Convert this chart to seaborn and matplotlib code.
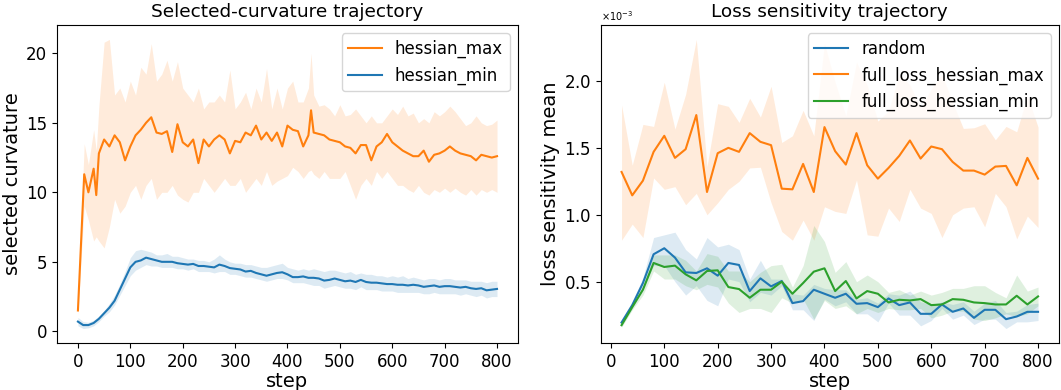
"""Curvature and loss-sensitivity trajectories, two panels side by side."""

import matplotlib

matplotlib.use("Agg")
import matplotlib.pyplot as plt
import seaborn as sns

BLUE = "#1f77b4"
ORANGE = "#ff7f0e"
GREEN = "#2ca02c"

# --- left panel: selected curvature ---------------------------------------
max_steps = [0, 12, 20, 30, 35, 40] + list(range(50, 441, 10)) + [445] + list(range(450, 801, 10))
max_mean = [
    1.5, 11.3, 10.0, 11.7, 9.8, 12.8,
    13.8, 13.3, 14.1, 13.6, 12.3, 13.3, 14.1, 14.5, 15.0, 15.4,
    14.3, 14.2, 14.4, 12.9, 14.9, 13.6, 13.3, 13.8, 12.1, 13.8,
    13.3, 13.8, 14.1, 13.8, 12.8, 13.7, 13.6, 14.3, 14.1, 14.8,
    13.8, 14.3, 13.7, 14.3, 13.3, 14.8, 14.5, 14.4, 13.3, 14.1,
    15.9,
    14.3, 14.2, 14.1, 13.8, 13.7, 13.6, 13.3, 13.2, 12.8, 13.4,
    13.4, 12.3, 13.3, 13.6, 14.2, 13.6, 13.3, 13.0, 12.8, 12.6,
    12.6, 13.0, 12.2, 12.7, 12.8, 13.0, 13.3, 13.0, 12.8, 12.7,
    12.6, 12.3, 12.7, 12.6, 12.5, 12.6,
]
max_upper = [
    2.0, 13.5, 12.0, 14.5, 13.0, 16.2,
    20.8, 21.0, 17.0, 17.5, 16.5, 18.0, 17.0, 19.0, 18.5, 20.7,
    18.0, 18.5, 19.5, 18.0, 19.4, 17.5, 17.0, 16.5, 17.5, 16.0,
    16.5, 16.5, 17.0, 16.5, 18.8, 16.0, 16.5, 17.2, 16.0, 17.5,
    16.5, 18.9, 16.0, 17.5, 16.0, 17.5, 18.0, 16.5, 16.5, 17.5,
    20.0,
    17.0, 16.2, 16.3, 16.0, 15.5, 16.3, 15.5, 15.6, 16.0, 15.5,
    15.0, 15.5, 15.0, 15.0, 15.5, 16.0, 15.6, 16.2, 15.5, 15.7,
    15.0, 15.3, 15.0, 15.8, 15.5, 15.8, 16.2, 15.8, 15.3, 14.8,
    15.0, 15.5, 15.0, 14.8, 14.9, 15.2,
]
max_lower = [
    1.2, 9.0, 8.0, 6.5, 6.8, 6.5,
    6.0, 7.5, 9.5, 8.5, 9.0, 10.0, 10.5, 9.5, 10.5, 11.0,
    9.5, 10.0, 10.0, 10.5, 9.8, 9.5, 9.3, 10.0, 10.0, 11.0,
    10.5, 10.0, 10.5, 11.0, 10.5, 10.5, 11.0, 10.0, 10.5, 11.0,
    10.5, 11.5, 10.5, 10.8, 11.0, 11.2, 11.8, 11.5, 11.0, 11.5,
    11.6,
    11.3, 11.0, 11.5, 11.0, 11.0, 11.0, 11.5, 10.5, 9.5, 10.5,
    11.0, 10.5, 11.5, 11.0, 11.5, 11.0, 10.5, 10.5, 10.2, 10.0,
    10.5, 10.0, 9.8, 10.2, 10.0, 10.3, 10.0, 10.3, 10.0, 9.8,
    10.2, 9.8, 10.2, 10.0, 10.2, 10.0,
]

min_steps = list(range(0, 801, 10))
min_mean = [
    0.7, 0.45, 0.45, 0.6, 0.9, 1.3, 1.7, 2.2, 3.0, 3.8,
    4.6, 5.0, 5.1, 5.3, 5.2, 5.1, 5.0, 5.0, 5.0, 4.9,
    4.85, 4.8, 4.85, 4.7, 4.7, 4.65, 4.6, 4.8, 4.7, 4.55,
    4.5, 4.45, 4.3, 4.35, 4.2, 4.1, 4.0, 4.1, 4.2, 4.25,
    4.1, 3.9, 3.9, 3.95, 3.85, 3.85, 3.8, 3.65, 3.7, 3.8,
    3.7, 3.6, 3.65, 3.55, 3.7, 3.55, 3.5, 3.5, 3.45, 3.4,
    3.4, 3.35, 3.35, 3.3, 3.35, 3.3, 3.2, 3.25, 3.3, 3.2,
    3.25, 3.25, 3.2, 3.15, 3.2, 3.1, 3.05, 3.1, 2.95, 3.0,
    3.05,
]
min_upper = [
    1.0, 0.7, 0.65, 0.8, 1.1, 1.5, 2.0, 2.6, 3.4, 4.3,
    5.3, 5.8, 5.9, 5.8, 5.7, 5.5, 5.5, 5.6, 5.4, 5.4,
    5.3, 5.2, 5.2, 5.1, 5.1, 5.0, 5.2, 5.5, 5.2, 5.0,
    4.9, 4.9, 4.8, 4.8, 4.7, 4.6, 4.6, 4.7, 4.8, 4.9,
    4.6, 4.5, 4.4, 4.5, 4.4, 4.5, 4.4, 4.3, 4.4, 4.4,
    4.3, 4.2, 4.3, 4.1, 4.2, 4.1, 4.1, 4.0, 4.0, 3.9,
    4.0, 3.9, 4.0, 3.8, 3.9, 3.8, 3.7, 3.8, 3.8, 3.7,
    3.8, 3.8, 3.7, 3.7, 3.7, 3.6, 3.6, 3.6, 3.5, 3.6,
    3.6,
]
min_lower = [
    0.4, 0.2, 0.25, 0.4, 0.7, 1.1, 1.4, 1.9, 2.6, 3.3,
    4.0, 4.4, 4.6, 4.8, 4.7, 4.7, 4.6, 4.6, 4.6, 4.5,
    4.5, 4.4, 4.5, 4.3, 4.3, 4.3, 4.2, 4.3, 4.3, 4.1,
    4.1, 4.0, 3.9, 3.9, 3.8, 3.7, 3.6, 3.7, 3.8, 3.8,
    3.7, 3.5, 3.5, 3.5, 3.4, 3.3, 3.3, 3.1, 3.2, 3.3,
    3.2, 3.1, 3.1, 3.0, 3.2, 3.0, 3.0, 3.0, 2.9, 2.9,
    2.9, 2.8, 2.8, 2.8, 2.8, 2.8, 2.7, 2.7, 2.8, 2.7,
    2.7, 2.7, 2.7, 2.6, 2.7, 2.6, 2.5, 2.6, 2.4, 2.5,
    2.5,
]

# --- right panel: loss sensitivity (values in units of 1e-3) ---------------
sens_steps = list(range(20, 801, 20))
random_mean = [
    0.195, 0.325, 0.49, 0.705, 0.75, 0.68, 0.57, 0.565, 0.60, 0.545,
    0.64, 0.625, 0.43, 0.525, 0.465, 0.505, 0.34, 0.355, 0.44, 0.41,
    0.38, 0.41, 0.335, 0.34, 0.31, 0.375, 0.325, 0.345, 0.26, 0.26,
    0.33, 0.275, 0.30, 0.23, 0.29, 0.29, 0.22, 0.24, 0.275, 0.275,
]
random_upper = [
    0.21, 0.35, 0.53, 0.83, 0.85, 0.87, 0.74, 0.67, 0.83, 0.76,
    0.78, 0.74, 0.52, 0.66, 0.52, 0.52, 0.41, 0.40, 0.48, 0.45,
    0.44, 0.44, 0.37, 0.38, 0.34, 0.41, 0.40, 0.43, 0.35, 0.33,
    0.35, 0.33, 0.35, 0.28, 0.34, 0.36, 0.27, 0.28, 0.33, 0.34,
]
random_lower = [
    0.18, 0.30, 0.45, 0.62, 0.62, 0.50, 0.40, 0.47, 0.36, 0.32,
    0.52, 0.50, 0.35, 0.42, 0.40, 0.47, 0.29, 0.29, 0.21, 0.37,
    0.32, 0.35, 0.26, 0.26, 0.20, 0.34, 0.25, 0.25, 0.17, 0.21,
    0.30, 0.22, 0.25, 0.18, 0.22, 0.22, 0.15, 0.20, 0.20, 0.21,
]
hmax_mean = [
    1.32, 1.145, 1.255, 1.47, 1.59, 1.425, 1.49, 1.745, 1.17, 1.46,
    1.50, 1.47, 1.61, 1.545, 1.52, 1.195, 1.19, 1.38, 1.17, 1.655,
    1.475, 1.375, 1.61, 1.37, 1.27, 1.35, 1.44, 1.555, 1.42, 1.51,
    1.49, 1.395, 1.33, 1.33, 1.30, 1.36, 1.365, 1.22, 1.425, 1.27,
]
hmax_upper = [
    1.82, 1.37, 1.675, 1.66, 1.99, 1.64, 1.90, 2.31, 1.36, 1.83,
    1.81, 1.69, 1.87, 1.73, 1.96, 1.54, 1.59, 1.78, 1.59, 2.28,
    1.99, 1.74, 2.14, 1.97, 1.70, 1.775, 2.05, 1.97, 1.80, 1.94,
    2.05, 1.84, 1.645, 1.65, 1.68, 1.56, 1.66, 1.62, 1.89, 1.655,
]
hmax_lower = [
    0.81, 0.93, 0.83, 1.275, 1.19, 1.21, 1.075, 1.16, 1.00, 1.09,
    1.19, 1.25, 1.35, 1.355, 1.09, 0.875, 0.81, 0.96, 0.81, 1.06,
    1.025, 1.01, 1.26, 0.85, 0.84, 1.05, 0.95, 1.19, 1.05, 1.01,
    0.83, 1.00, 1.05, 1.06, 0.91, 1.16, 1.06, 0.82, 0.99, 0.905,
]
hmin_mean = [
    0.175, 0.31, 0.44, 0.64, 0.61, 0.62, 0.555, 0.51, 0.58, 0.585,
    0.46, 0.445, 0.38, 0.44, 0.44, 0.50, 0.41, 0.49, 0.575, 0.60,
    0.43, 0.505, 0.375, 0.43, 0.41, 0.345, 0.365, 0.36, 0.37, 0.325,
    0.33, 0.37, 0.365, 0.345, 0.34, 0.33, 0.33, 0.395, 0.33, 0.39,
]
hmin_upper = [
    0.19, 0.33, 0.47, 0.70, 0.70, 0.70, 0.66, 0.58, 0.71, 0.69,
    0.58, 0.58, 0.50, 0.57, 0.62, 0.63, 0.46, 0.62, 0.92, 0.80,
    0.57, 0.65, 0.50, 0.55, 0.50, 0.42, 0.44, 0.40, 0.43, 0.40,
    0.42, 0.45, 0.45, 0.47, 0.47, 0.42, 0.38, 0.55, 0.43, 0.46,
]
hmin_lower = [
    0.16, 0.29, 0.40, 0.58, 0.52, 0.52, 0.47, 0.44, 0.48, 0.46,
    0.34, 0.27, 0.30, 0.30, 0.27, 0.38, 0.34, 0.37, 0.22, 0.36,
    0.30, 0.32, 0.26, 0.30, 0.27, 0.30, 0.29, 0.29, 0.30, 0.23,
    0.25, 0.28, 0.28, 0.22, 0.21, 0.23, 0.26, 0.24, 0.26, 0.32,
]


def _band(ax, steps, mean, lower, upper, color, label, scale=1.0):
    sns.lineplot(
        x=steps,
        y=[v * scale for v in mean],
        color=color,
        linewidth=1.5,
        label=label,
        ax=ax,
    )
    ax.fill_between(
        steps,
        [v * scale for v in lower],
        [v * scale for v in upper],
        color=color,
        alpha=0.15,
        linewidth=0,
    )


fig = plt.figure(figsize=(10.61, 3.9), dpi=100)
ax_left = fig.add_axes([0.0537, 0.1205, 0.4345, 0.8155])
ax_right = fig.add_axes([0.5662, 0.1205, 0.4318, 0.8155])

_band(ax_left, max_steps, max_mean, max_lower, max_upper, ORANGE, "hessian_max")
_band(ax_left, min_steps, min_mean, min_lower, min_upper, BLUE, "hessian_min")
ax_left.set_title("Selected-curvature trajectory", fontsize=13.3)
ax_left.set_xlabel("step", fontsize=14, labelpad=1)
ax_left.set_ylabel("selected curvature", fontsize=14, labelpad=3)
ax_left.set_xticks(range(0, 801, 100))
ax_left.set_yticks([0, 5, 10, 15, 20])
ax_left.tick_params(labelsize=12)
ax_left.legend(loc="upper right", fontsize=12)

_band(ax_right, sens_steps, random_mean, random_lower, random_upper, BLUE, "random", 1e-3)
_band(ax_right, sens_steps, hmax_mean, hmax_lower, hmax_upper, ORANGE, "full_loss_hessian_max", 1e-3)
_band(ax_right, sens_steps, hmin_mean, hmin_lower, hmin_upper, GREEN, "full_loss_hessian_min", 1e-3)
ax_right.set_title("Loss sensitivity trajectory", fontsize=13.3)
ax_right.set_xlabel("step", fontsize=14, labelpad=1)
ax_right.set_ylabel("loss sensitivity mean", fontsize=14, labelpad=3)
ax_right.set_xticks(range(0, 801, 100))
ax_right.ticklabel_format(axis="y", style="sci", scilimits=(-3, -3), useMathText=True)
ax_right.tick_params(labelsize=12)
ax_right.yaxis.get_offset_text().set_fontsize(7)
ax_right.legend(loc="upper right", fontsize=12)

fig.savefig("out.png", dpi=100)
plt.close(fig)
